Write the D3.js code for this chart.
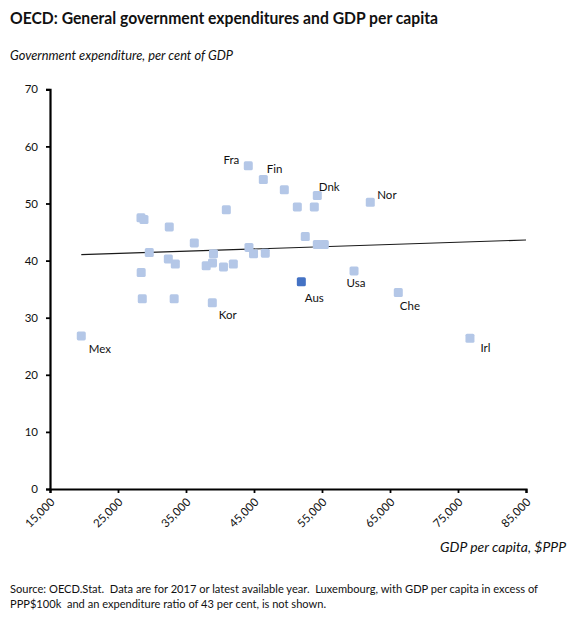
<!DOCTYPE html>
<html>
<head>
  <meta charset="utf-8">
  <title>OECD: General government expenditures and GDP per capita</title>
  <script src="https://cdn.jsdelivr.net/npm/d3@7"></script>
  <style>
    body { margin: 0; background: #fff; }
    text { font-family: Lato, "Open Sans", sans-serif; fill: #111; white-space: pre; }
    .axis path, .axis line { stroke: #000; }
  </style>
</head>
<body>
  <svg width="576" height="630"></svg>

  <script>
    // GDP per capita ($PPP) and government expenditure (% of GDP), one entry per country
    const gdp = [19600, 44160, 46370, 49460, 51370, 40930, 28380, 28820, 32540, 36220,
                 52540, 29600, 44260, 44930, 46660, 39040, 32400, 33430, 38900, 37970,
                 40510, 41960, 28410, 51960, 28570, 33260, 38870, 54310, 62100, 53870,
                 54310, 55340, 59710, 66220, 76760];
    const expenditure = [26.8, 56.6, 54.2, 52.4, 49.4, 48.9, 47.5, 47.2, 45.9, 43.1,
                         44.2, 41.4, 42.3, 41.2, 41.3, 41.2, 40.3, 39.4, 39.6, 39.1,
                         38.9, 39.4, 37.9, 36.3, 33.3, 33.3, 32.6, 51.4, 50.2, 49.4,
                         42.8, 42.8, 38.2, 34.4, 26.4];
    const labels = ["Mex", "Fra", "Fin", "", "", "", "", "", "", "",
                    "", "", "", "", "", "", "", "", "", "",
                    "", "", "", "Aus", "", "", "Kor", "Dnk", "Nor", "",
                    "", "", "Usa", "Che", "Irl"];
    const highlight = "Aus";

    // linear trend line end points, as drawn in the original
    const trendGdp = [19600, 85000];
    const trendExp = [41.05, 43.6];

    const xTicks = [15000, 25000, 35000, 45000, 55000, 65000, 75000, 85000];
    const yTicks = [0, 10, 20, 30, 40, 50, 60, 70];

    // where each label sits relative to its marker
    const labelPos = {
      Fra: { dx: -9, dy: -2, anchor: "end" },
      Fin: { dx: 3.5, dy: -7 },
      Dnk: { dx: 1.5, dy: -5 },
      Nor: { dx: 7, dy: -3 },
      Usa: { dx: -7.5, dy: 16 },
      Aus: { dx: 3.5, dy: 20 },
      Che: { dx: 1.5, dy: 17 },
      Kor: { dx: 6.5, dy: 16 },
      Mex: { dx: 7.5, dy: 17 },
      Irl: { dx: 10.5, dy: 14 }
    };

    const svg = d3.select("svg");
    const plot = { left: 50, right: 526, top: 89.3, bottom: 489 };

    const x = d3.scaleLinear().domain([15000, 85000]).range([plot.left, plot.right]);
    const y = d3.scaleLinear().domain([0, 70]).range([plot.bottom, plot.top]);

    // squeeze a text into the width it has in the original
    function fitWidth(sel, w) {
      sel.attr("textLength", w).attr("lengthAdjust", "spacingAndGlyphs");
    }

    // titles
    svg.append("text")
      .attr("x", 10).attr("y", 24)
      .attr("font-size", 17.5).attr("font-weight", "bold")
      .text("OECD: General government expenditures and GDP per capita")
      .call(fitWidth, 428);

    svg.append("text")
      .attr("x", 10).attr("y", 59.5)
      .attr("font-size", 13.5).attr("font-style", "italic")
      .text("Government expenditure, per cent of GDP")
      .call(fitWidth, 223);

    // trend line
    svg.append("line")
      .attr("x1", x(trendGdp[0])).attr("y1", y(trendExp[0]))
      .attr("x2", x(trendGdp[1])).attr("y2", y(trendExp[1]))
      .attr("stroke", "#1a1a1a").attr("stroke-width", 1.1);

    // axes
    const yAxis = svg.append("g")
      .attr("class", "axis")
      .attr("transform", `translate(${plot.left},0)`)
      .call(d3.axisLeft(y).tickValues(yTicks).tickSize(4).tickPadding(8).tickFormat(d3.format("d")));
    yAxis.select(".domain").attr("stroke-width", 2.2);
    yAxis.selectAll(".tick line").attr("stroke-width", 1.8);
    yAxis.selectAll("text").attr("font-size", 11.5).attr("font-family", "Lato").attr("fill", "#111");

    const xAxis = svg.append("g")
      .attr("class", "axis")
      .attr("transform", `translate(0,${plot.bottom})`)
      .call(d3.axisBottom(x).tickValues(xTicks).tickSize(4).tickFormat(d3.format(",")));
    xAxis.select(".domain").attr("stroke-width", 2.2);
    xAxis.selectAll(".tick line").attr("stroke-width", 1.8);
    xAxis.selectAll("text")
      .attr("font-size", 11.5).attr("font-family", "Lato").attr("fill", "#111")
      .attr("text-anchor", "end")
      .attr("x", 0).attr("y", 0).attr("dy", "0.35em")
      .attr("transform", "translate(2,11) rotate(-45)");

    svg.append("text")
      .attr("x", 566).attr("y", 552)
      .attr("text-anchor", "end")
      .attr("font-size", 13).attr("font-style", "italic")
      .text("GDP per capita, $PPP")
      .call(fitWidth, 126);

    // markers
    const points = gdp.map((g, i) => ({ gdp: g, exp: expenditure[i], label: labels[i] }));
    const size = 9;

    svg.append("g")
      .selectAll("rect")
      .data(points)
      .join("rect")
      .attr("x", d => x(d.gdp) - size / 2)
      .attr("y", d => y(d.exp) - size / 2)
      .attr("width", size).attr("height", size)
      .attr("rx", 1.6)
      .attr("fill", d => d.label === highlight ? "#4472C4" : "#B4C7E7");

    svg.append("g")
      .selectAll("text")
      .data(points.filter(d => d.label))
      .join("text")
      .attr("x", d => x(d.gdp) + labelPos[d.label].dx)
      .attr("y", d => y(d.exp) + labelPos[d.label].dy)
      .attr("text-anchor", d => labelPos[d.label].anchor || "start")
      .attr("font-size", 11.5)
      .text(d => d.label);

    // source note
    svg.append("text")
      .attr("x", 10).attr("y", 592.5)
      .attr("font-size", 11.5)
      .text("Source: OECD.Stat.  Data are for 2017 or latest available year.  Luxembourg, with GDP per capita in excess of")
      .call(fitWidth, 528);
    svg.append("text")
      .attr("x", 10).attr("y", 607.5)
      .attr("font-size", 11.5)
      .text("PPP$100k  and an expenditure ratio of 43 per cent, is not shown.")
      .call(fitWidth, 316);
  </script>
</body>
</html>
